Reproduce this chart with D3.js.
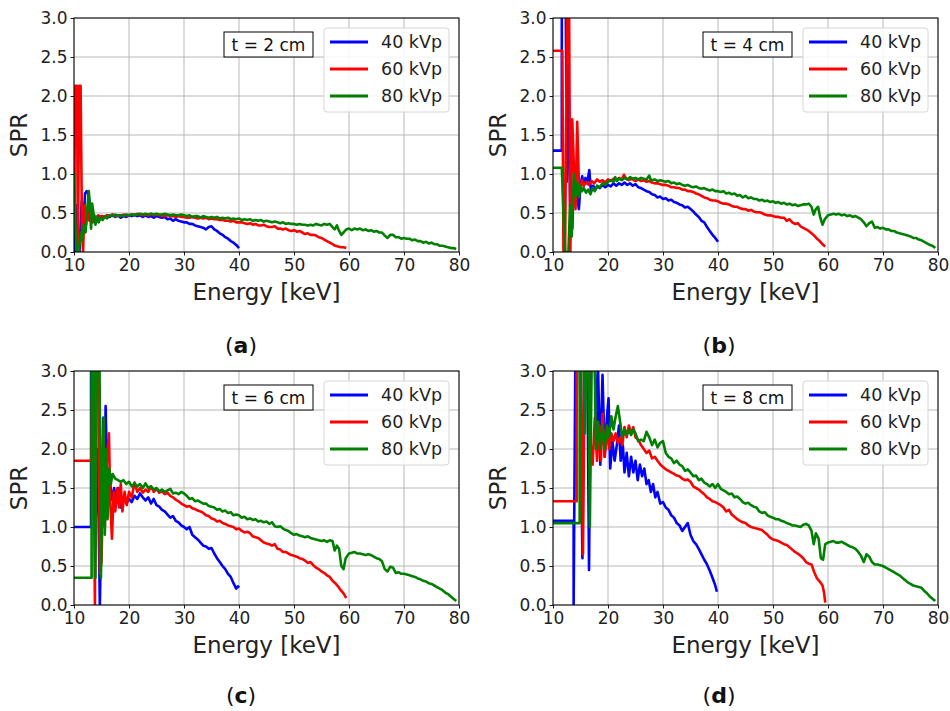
<!DOCTYPE html>
<html>
<head>
<meta charset="utf-8">
<script src="https://cdn.jsdelivr.net/npm/d3@7"></script>
<style>
  body { margin: 0; background: #fff; }
  text { font-family: "DejaVu Sans", sans-serif; }
</style>
</head>
<body>
<svg id="fig" width="950" height="711"></svg>
<script>
// Axis ticks
const energyTicks = [10, 20, 30, 40, 50, 60, 70, 80];
const sprTicks = [0, 0.5, 1.0, 1.5, 2.0, 2.5, 3.0];
const kvpLabels = ["40 kVp", "60 kVp", "80 kVp"];
const thicknessLabels = ["t = 2 cm", "t = 4 cm", "t = 6 cm", "t = 8 cm"];
const panelTags = ["a", "b", "c", "d"];

// SPR spectra, [energy keV, SPR]
const spr2cm_40 = [[10.0,1.35],[10.15,0.0],[10.4,0.6],[10.6,0.0],[11.0,0.0],[11.4,0.65],[11.7,0.3],[12.0,0.75],[12.3,0.78],[12.6,0.74],[12.9,0.62],[13.2,0.42],[13.5,0.47],[13.8,0.41],[14.1,0.45],[14.5,0.43],[15,0.46],[15.5,0.44],[16,0.47],[16.5,0.45],[17,0.48],[17.5,0.45],[18,0.47],[18.5,0.44],[19,0.46],[19.5,0.45],[20,0.47],[20.5,0.46],[21,0.48],[21.5,0.46],[22,0.47],[22.5,0.45],[23,0.47],[23.5,0.45],[24,0.46],[24.5,0.44],[25,0.46],[25.5,0.45],[26,0.44],[26.5,0.45],[27,0.42],[27.5,0.43],[28,0.40],[28.5,0.42],[29,0.40],[29.5,0.39],[30,0.38],[30.5,0.38],[31,0.36],[31.5,0.36],[32,0.34],[32.5,0.33],[33,0.32],[33.5,0.31],[34,0.29],[34.5,0.32],[35,0.33],[35.5,0.29],[36,0.27],[36.5,0.24],[37,0.22],[37.5,0.19],[38,0.17],[38.5,0.14],[39,0.12],[39.5,0.09],[40,0.05]];
const spr2cm_60 = [[10.0,0.6],[10.25,2.13],[10.55,2.13],[10.7,0.0],[10.95,2.13],[11.2,2.13],[11.45,0.3],[11.65,0.0],[11.9,0.6],[12.2,0.35],[12.5,0.55],[12.8,0.4],[13.1,0.5],[13.4,0.38],[13.7,0.47],[14,0.42],[14.4,0.47],[14.8,0.45],[15.2,0.46],[15.6,0.44],[16,0.47],[16.5,0.46],[17,0.48],[17.5,0.46],[18,0.47],[18.5,0.46],[19,0.48],[19.5,0.47],[20,0.47],[20.5,0.48],[21,0.47],[21.5,0.49],[22,0.48],[22.5,0.47],[23,0.48],[23.5,0.47],[24,0.49],[24.5,0.47],[25,0.48],[25.5,0.47],[26,0.47],[26.5,0.46],[27,0.47],[27.5,0.46],[28,0.46],[28.5,0.45],[29,0.46],[29.5,0.45],[30,0.45],[30.5,0.44],[31,0.44],[31.5,0.45],[32,0.44],[32.5,0.43],[33,0.44],[33.5,0.43],[34,0.44],[34.5,0.42],[35,0.43],[35.5,0.42],[36,0.42],[36.5,0.41],[37,0.41],[37.5,0.40],[38,0.40],[38.5,0.39],[39,0.40],[39.5,0.38],[40,0.38],[40.5,0.38],[41,0.37],[41.5,0.36],[42,0.37],[42.5,0.35],[43,0.36],[43.5,0.34],[44,0.34],[44.5,0.35],[45,0.33],[45.5,0.32],[46,0.32],[46.5,0.33],[47,0.30],[47.5,0.30],[48,0.29],[48.5,0.30],[49,0.28],[49.5,0.27],[50,0.28],[50.5,0.26],[51,0.27],[51.5,0.25],[52,0.23],[52.5,0.24],[53,0.22],[53.5,0.22],[54,0.21],[54.5,0.19],[55,0.18],[55.5,0.16],[56,0.14],[56.5,0.12],[57,0.10],[57.5,0.08],[58,0.07],[58.5,0.06],[59,0.06],[59.5,0.05]];
const spr2cm_80 = [[10.0,1.02],[10.2,0.4],[10.45,0.0],[10.9,0.0],[11.2,0.25],[11.5,0.15],[11.8,0.35],[12.1,0.25],[12.4,0.55],[12.7,0.78],[12.9,0.55],[13.1,0.3],[13.3,0.62],[13.6,0.47],[13.9,0.35],[14.2,0.45],[14.5,0.38],[14.8,0.44],[15.2,0.41],[15.6,0.46],[16,0.43],[16.5,0.47],[17,0.46],[17.5,0.48],[18,0.46],[18.5,0.47],[19,0.46],[19.5,0.48],[20,0.47],[20.5,0.48],[21,0.47],[21.5,0.48],[22,0.49],[22.5,0.48],[23,0.49],[23.5,0.48],[24,0.49],[24.5,0.48],[25,0.49],[25.5,0.48],[26,0.48],[26.5,0.49],[27,0.48],[27.5,0.47],[28,0.48],[28.5,0.47],[29,0.47],[29.5,0.48],[30,0.47],[30.5,0.46],[31,0.47],[31.5,0.45],[32,0.46],[32.5,0.46],[33,0.44],[33.5,0.46],[34,0.45],[34.5,0.44],[35,0.45],[35.5,0.44],[36,0.45],[36.5,0.43],[37,0.44],[37.5,0.43],[38,0.44],[38.5,0.42],[39,0.43],[39.5,0.42],[40,0.43],[40.5,0.41],[41,0.42],[41.5,0.41],[42,0.42],[42.5,0.40],[43,0.41],[43.5,0.40],[44,0.41],[44.5,0.39],[45,0.40],[45.5,0.39],[46,0.38],[46.5,0.39],[47,0.38],[47.5,0.37],[48,0.38],[48.5,0.36],[49,0.37],[49.5,0.36],[50,0.36],[50.5,0.35],[51,0.36],[51.5,0.35],[52,0.35],[52.5,0.34],[53,0.35],[53.5,0.34],[54,0.36],[54.5,0.35],[55,0.34],[55.5,0.36],[56,0.35],[56.5,0.36],[57,0.32],[57.4,0.29],[57.8,0.34],[58.2,0.27],[58.6,0.22],[59,0.25],[59.5,0.29],[60,0.30],[60.5,0.28],[61,0.30],[61.5,0.29],[62,0.30],[62.5,0.28],[63,0.29],[63.5,0.27],[64,0.28],[64.5,0.26],[65,0.27],[65.5,0.25],[66,0.25],[66.5,0.21],[67,0.18],[67.5,0.22],[68,0.22],[68.5,0.19],[69,0.19],[69.5,0.17],[70,0.18],[70.5,0.17],[71,0.17],[71.5,0.15],[72,0.16],[72.5,0.14],[73,0.14],[73.5,0.12],[74,0.13],[74.5,0.11],[75,0.12],[75.5,0.10],[76,0.10],[76.5,0.08],[77,0.08],[77.5,0.07],[78,0.06],[78.5,0.05],[79,0.05],[79.5,0.04]];

const spr4cm_40 = [[10,1.30],[11.6,1.30],[11.6,3.5],[12.3,3.5],[12.5,0.9],[12.8,2.4],[13.1,0.6],[13.5,0.3],[13.9,1.1],[14.3,0.75],[14.7,0.55],[15.0,0.85],[15.3,0.97],[15.6,0.85],[15.9,0.95],[16.2,0.88],[16.6,1.05],[16.9,0.78],[17.3,0.85],[17.7,0.80],[18.1,0.84],[18.5,0.82],[19,0.86],[19.5,0.83],[20,0.86],[20.5,0.84],[21,0.88],[21.5,0.85],[22,0.88],[22.5,0.86],[23,0.89],[23.5,0.86],[24,0.88],[24.5,0.85],[25,0.87],[25.5,0.83],[26,0.82],[26.5,0.80],[27,0.78],[27.5,0.77],[28,0.74],[28.5,0.73],[29,0.70],[29.5,0.71],[30,0.68],[30.5,0.69],[31,0.66],[31.5,0.67],[32,0.64],[32.5,0.63],[33,0.61],[33.5,0.60],[34,0.57],[34.5,0.58],[35,0.55],[35.5,0.52],[36,0.48],[36.5,0.45],[37,0.40],[37.5,0.38],[38,0.32],[38.5,0.27],[39,0.22],[39.5,0.18],[40,0.13]];
const spr4cm_60 = [[10,2.58],[11.7,2.58],[11.9,0.0],[12.2,0.0],[12.6,3.5],[12.9,3.5],[13.15,0.0],[13.5,1.7],[13.8,1.1],[14.1,0.55],[14.4,1.67],[14.7,0.9],[15.0,0.82],[15.3,0.92],[15.6,0.85],[16,0.90],[16.5,0.86],[17,0.91],[17.5,0.88],[18,0.93],[18.5,0.90],[19,0.92],[19.5,0.89],[20,0.93],[20.5,0.91],[21,0.94],[21.5,0.92],[22,0.95],[22.5,0.93],[22.9,0.99],[23.3,0.94],[23.8,0.92],[24.3,0.94],[25,0.91],[25.5,0.93],[26,0.91],[26.5,0.92],[27,0.90],[27.5,0.91],[28,0.89],[28.5,0.88],[29,0.88],[29.5,0.87],[30,0.86],[30.5,0.86],[31,0.85],[31.5,0.83],[32,0.83],[32.5,0.82],[33,0.82],[33.5,0.80],[34,0.80],[34.5,0.78],[35,0.78],[35.5,0.77],[36,0.75],[36.5,0.74],[37,0.72],[37.5,0.70],[38,0.69],[38.5,0.67],[39,0.66],[39.5,0.66],[40,0.65],[40.5,0.63],[41,0.62],[41.5,0.62],[42,0.61],[42.5,0.59],[43,0.58],[43.5,0.58],[44,0.56],[44.5,0.55],[45,0.55],[45.5,0.53],[46,0.54],[46.5,0.52],[47,0.51],[47.5,0.51],[48,0.50],[48.5,0.48],[49,0.47],[49.5,0.47],[50,0.46],[50.5,0.45],[51,0.45],[51.5,0.44],[52,0.44],[52.5,0.40],[53,0.42],[53.5,0.38],[54,0.36],[54.5,0.37],[55,0.33],[55.5,0.31],[56,0.29],[56.5,0.27],[57,0.24],[57.5,0.21],[58,0.17],[58.5,0.14],[59,0.10],[59.5,0.07]];
const spr4cm_80 = [[10,1.08],[11.6,1.08],[11.9,0.5],[12.2,0.0],[12.8,0.0],[13.1,0.6],[13.4,0.2],[13.8,1.0],[14.1,0.72],[14.4,0.9],[14.7,0.7],[15.0,0.85],[15.3,0.78],[15.6,0.82],[16,0.76],[16.4,0.80],[16.8,0.74],[17.2,0.82],[17.6,0.78],[18,0.85],[18.5,0.83],[19,0.88],[19.5,0.86],[20,0.90],[20.5,0.92],[21,0.90],[21.3,0.96],[21.6,0.91],[22,0.94],[22.5,0.92],[23,0.95],[23.5,0.93],[24,0.96],[24.5,0.94],[25,0.95],[25.5,0.93],[26,0.95],[26.5,0.94],[27,0.93],[27.5,0.98],[27.8,0.92],[28.5,0.93],[29,0.91],[29.5,0.92],[30,0.91],[30.5,0.90],[31,0.91],[31.5,0.88],[32,0.89],[32.5,0.87],[33,0.88],[33.5,0.86],[34,0.85],[34.5,0.86],[35,0.84],[35.5,0.83],[36,0.84],[36.5,0.82],[37,0.81],[37.5,0.82],[38,0.80],[38.5,0.79],[39,0.80],[39.5,0.78],[40,0.78],[40.5,0.77],[41,0.78],[41.5,0.75],[42,0.76],[42.5,0.74],[43,0.75],[43.5,0.72],[44,0.73],[44.5,0.70],[45,0.72],[45.5,0.69],[46,0.70],[46.5,0.68],[47,0.68],[47.5,0.66],[48,0.67],[48.5,0.65],[49,0.66],[49.5,0.64],[50,0.65],[50.5,0.63],[51,0.64],[51.5,0.62],[52,0.63],[52.5,0.61],[53,0.62],[53.5,0.60],[54,0.61],[54.5,0.59],[55,0.60],[55.5,0.61],[56,0.61],[56.5,0.62],[57,0.58],[57.4,0.48],[57.8,0.55],[58.2,0.58],[58.6,0.44],[59,0.35],[59.4,0.42],[60,0.47],[60.5,0.48],[61,0.49],[61.5,0.48],[62,0.49],[62.5,0.47],[63,0.48],[63.5,0.46],[64,0.47],[64.5,0.45],[65,0.46],[65.5,0.44],[66,0.42],[66.5,0.38],[67,0.33],[67.5,0.37],[68,0.39],[68.5,0.31],[69,0.32],[69.5,0.30],[70,0.31],[70.5,0.29],[71,0.29],[71.5,0.27],[72,0.27],[72.5,0.25],[73,0.24],[73.5,0.23],[74,0.22],[74.5,0.21],[75,0.20],[75.5,0.18],[76,0.18],[76.5,0.16],[77,0.15],[77.5,0.13],[78,0.11],[78.5,0.09],[79,0.08],[79.5,0.05]];

const spr6cm_40 = [[10,1.0],[13.1,1.0],[13.1,3.5],[13.6,3.5],[13.9,1.0],[14.3,2.0],[14.7,0.0],[15.0,1.2],[15.3,2.4],[15.5,1.1],[15.75,2.55],[16.1,1.3],[16.5,1.6],[16.9,1.35],[17.3,1.5],[17.7,1.3],[18.1,1.5],[18.5,1.25],[19,1.38],[19.5,1.30],[20,1.36],[20.5,1.32],[21,1.4],[21.5,1.36],[22,1.43],[22.5,1.38],[23,1.34],[23.5,1.38],[24,1.30],[24.5,1.36],[25,1.28],[25.5,1.26],[26,1.22],[26.5,1.20],[27,1.16],[27.5,1.12],[28,1.14],[28.5,1.08],[29,1.06],[29.5,1.02],[30,1.0],[30.5,0.97],[31,1.00],[31.5,0.90],[32,0.87],[32.5,0.84],[33,0.80],[33.5,0.76],[34,0.75],[34.5,0.72],[35,0.73],[35.5,0.66],[36,0.60],[36.5,0.55],[37,0.50],[37.5,0.46],[38,0.40],[38.5,0.36],[39,0.28],[39.5,0.21],[39.8,0.24],[40,0.22]];
const spr6cm_60 = [[10,1.85],[13.2,1.85],[13.4,3.5],[13.8,0.0],[14.0,3.5],[14.4,3.5],[14.7,0.4],[15.0,0.55],[15.3,1.6],[15.6,1.0],[16.0,1.9],[16.35,2.2],[16.6,1.3],[16.9,0.85],[17.2,1.45],[17.5,1.2],[17.9,1.5],[18.2,1.25],[18.5,1.55],[18.8,1.2],[19.2,1.45],[19.6,1.28],[20,1.45],[20.5,1.38],[21,1.57],[21.5,1.45],[22,1.50],[22.5,1.44],[23,1.48],[23.5,1.45],[24,1.52],[24.5,1.45],[25,1.49],[25.5,1.44],[26,1.46],[26.5,1.42],[27,1.44],[27.5,1.40],[28,1.38],[28.5,1.35],[29,1.33],[29.5,1.30],[30,1.28],[30.5,1.26],[31,1.27],[31.5,1.24],[32,1.23],[32.5,1.21],[33,1.20],[33.5,1.18],[34,1.15],[34.5,1.14],[35,1.11],[35.5,1.10],[36,1.07],[36.5,1.08],[37,1.05],[37.5,1.04],[38,1.02],[38.5,1.01],[39,1.00],[39.5,0.97],[40,0.98],[40.5,0.95],[41,0.93],[41.5,0.94],[42,0.92],[42.5,0.88],[43,0.87],[43.5,0.86],[44,0.83],[44.5,0.80],[45,0.79],[45.5,0.78],[46,0.76],[46.5,0.78],[47,0.72],[47.5,0.71],[48,0.68],[48.5,0.68],[49,0.66],[49.5,0.64],[50,0.63],[50.5,0.62],[51,0.60],[51.5,0.59],[52,0.57],[52.5,0.54],[53,0.55],[53.5,0.51],[54,0.48],[54.5,0.46],[55,0.43],[55.5,0.41],[56,0.38],[56.5,0.36],[57,0.31],[57.5,0.28],[58,0.24],[58.5,0.19],[59,0.15],[59.5,0.09]];
const spr6cm_80 = [[10,0.35],[13.2,0.35],[13.2,3.5],[13.6,3.5],[13.9,0.35],[14.2,3.5],[14.6,3.5],[14.9,0.35],[15.2,1.8],[15.4,2.4],[15.6,0.9],[15.9,2.0],[16.1,1.1],[16.4,1.75],[16.7,1.55],[17.0,1.68],[17.5,1.62],[18,1.60],[18.5,1.58],[19,1.60],[19.5,1.55],[20,1.58],[20.5,1.52],[21,1.56],[21.5,1.52],[22,1.55],[22.5,1.50],[23,1.56],[23.5,1.50],[24,1.52],[24.5,1.48],[25,1.50],[25.5,1.46],[26,1.48],[26.5,1.45],[27,1.47],[27.5,1.49],[28,1.43],[28.5,1.44],[29,1.42],[29.5,1.45],[30,1.43],[30.5,1.40],[31,1.36],[31.5,1.37],[32,1.33],[32.5,1.34],[33,1.32],[33.5,1.30],[34,1.30],[34.5,1.27],[35,1.26],[35.5,1.25],[36,1.22],[36.5,1.23],[37,1.20],[37.5,1.21],[38,1.18],[38.5,1.19],[39,1.15],[39.5,1.16],[40,1.15],[40.5,1.12],[41,1.13],[41.5,1.10],[42,1.11],[42.5,1.09],[43,1.10],[43.5,1.07],[44,1.08],[44.5,1.06],[45,1.07],[45.5,1.04],[46,1.06],[46.5,1.01],[47,1.00],[47.5,1.01],[48,0.98],[48.5,0.96],[49,0.95],[49.5,0.92],[50,0.90],[50.5,0.91],[51,0.89],[51.5,0.88],[52,0.87],[52.5,0.88],[53,0.86],[53.5,0.85],[54,0.84],[54.5,0.83],[55,0.82],[55.5,0.83],[56,0.81],[56.5,0.83],[57,0.82],[57.4,0.70],[57.8,0.76],[58.2,0.72],[58.6,0.50],[59,0.46],[59.4,0.60],[60,0.66],[60.5,0.67],[61,0.68],[61.5,0.66],[62,0.66],[62.5,0.65],[63,0.64],[63.5,0.65],[64,0.64],[64.5,0.62],[65,0.60],[65.5,0.59],[66,0.56],[66.5,0.46],[67,0.43],[67.5,0.49],[68,0.48],[68.5,0.41],[69,0.42],[69.5,0.40],[70,0.40],[70.5,0.39],[71,0.38],[71.5,0.37],[72,0.36],[72.5,0.34],[73,0.33],[73.5,0.31],[74,0.30],[74.5,0.28],[75,0.27],[75.5,0.25],[76,0.23],[76.5,0.21],[77,0.19],[77.5,0.16],[78,0.14],[78.5,0.11],[79,0.08],[79.5,0.05]];

const spr8cm_40 = [[10,1.08],[13.75,1.08],[13.75,0.0],[14.1,3.5],[14.8,3.5],[15.35,0.6],[15.7,3.5],[16.2,3.5],[16.55,0.45],[16.9,3.5],[17.5,3.5],[17.9,2.2],[18.2,3.0],[18.6,1.8],[19.0,2.95],[19.4,1.9],[19.8,2.4],[20.1,2.65],[20.4,1.75],[20.8,2.1],[21.2,1.85],[21.6,2.05],[22.0,2.3],[22.3,1.85],[22.7,2.05],[23.0,1.7],[23.4,1.95],[23.8,1.65],[24.2,1.9],[24.6,1.7],[25,1.85],[25.4,1.6],[25.8,1.8],[26.2,1.65],[26.6,1.75],[27,1.55],[27.4,1.6],[27.8,1.45],[28.2,1.55],[28.6,1.38],[29,1.45],[29.5,1.30],[30,1.32],[30.5,1.25],[31,1.22],[31.5,1.15],[32,1.12],[32.5,1.05],[33,1.02],[33.5,0.95],[34,1.0],[34.5,1.05],[35,0.90],[35.5,0.82],[36,0.78],[36.5,0.72],[37,0.65],[37.5,0.58],[38,0.52],[38.5,0.44],[39,0.35],[39.5,0.25],[39.8,0.17]];
const spr8cm_60 = [[10,1.33],[14.3,1.33],[14.3,3.5],[15.0,3.5],[15.45,0.65],[15.8,3.5],[16.4,3.5],[16.8,2.1],[17.2,1.8],[17.6,2.4],[18.0,1.85],[18.4,2.3],[18.7,1.85],[19.0,2.45],[19.4,1.9],[19.8,2.25],[20.2,2.0],[20.6,2.2],[21,2.1],[21.4,2.2],[21.8,2.08],[22.2,2.15],[22.6,2.05],[23,2.28],[23.4,2.15],[23.8,2.3],[24.2,2.2],[24.6,2.28],[25,2.15],[25.5,2.12],[26,2.05],[26.5,2.0],[27,1.95],[27.5,1.98],[28,1.88],[28.5,1.90],[29,1.85],[29.5,1.80],[30,1.77],[30.5,1.74],[31,1.72],[31.5,1.70],[32,1.68],[32.5,1.66],[33,1.65],[33.5,1.62],[34,1.60],[34.5,1.61],[35,1.58],[35.5,1.52],[36,1.50],[36.5,1.48],[37,1.45],[37.5,1.42],[38,1.38],[38.5,1.36],[39,1.33],[39.5,1.32],[40,1.30],[40.5,1.28],[41,1.25],[41.5,1.20],[42,1.22],[42.5,1.16],[43,1.13],[43.5,1.10],[44,1.08],[44.5,1.06],[45,1.05],[45.5,1.02],[46,1.00],[46.5,0.99],[47,0.98],[47.5,0.97],[48,0.96],[48.5,0.93],[49,0.90],[49.5,0.86],[50,0.84],[50.5,0.83],[51,0.82],[51.5,0.80],[52,0.78],[52.5,0.77],[53,0.74],[53.5,0.71],[54,0.68],[54.5,0.66],[55,0.63],[55.5,0.60],[56,0.55],[56.5,0.53],[57,0.52],[57.5,0.42],[58,0.34],[58.5,0.30],[59,0.25],[59.3,0.15],[59.5,0.03]];
const spr8cm_80 = [[10,1.05],[14.85,1.05],[14.85,3.5],[15.5,3.5],[15.8,2.2],[16.1,3.5],[16.4,3.5],[16.7,1.0],[17.1,3.5],[17.5,3.5],[17.8,2.0],[18.2,2.35],[18.6,2.0],[19.0,2.3],[19.4,2.0],[19.8,2.3],[20.2,2.15],[20.6,2.42],[21.0,2.25],[21.4,2.42],[21.8,2.55],[22.2,2.35],[22.6,2.15],[23,2.25],[23.4,2.18],[23.8,2.25],[24.2,2.18],[24.6,2.25],[25,2.2],[25.5,2.1],[26,2.12],[26.5,2.1],[27,2.22],[27.5,2.15],[28,2.05],[28.5,2.12],[29,2.02],[29.5,2.08],[30,2.1],[30.5,1.95],[31,1.90],[31.5,1.88],[32,1.82],[32.5,1.85],[33,1.80],[33.5,1.78],[34,1.72],[34.5,1.74],[35,1.70],[35.5,1.65],[36,1.66],[36.5,1.60],[37,1.62],[37.5,1.57],[38,1.55],[38.5,1.52],[39,1.55],[39.5,1.50],[40,1.55],[40.5,1.49],[41,1.47],[41.5,1.45],[42,1.42],[42.5,1.43],[43,1.38],[43.5,1.39],[44,1.36],[44.5,1.32],[45,1.30],[45.5,1.31],[46,1.28],[46.5,1.26],[47,1.25],[47.5,1.20],[48,1.18],[48.5,1.19],[49,1.15],[49.5,1.13],[50,1.12],[50.5,1.10],[51,1.10],[51.5,1.08],[52,1.07],[52.5,1.05],[53,1.04],[53.5,1.02],[54,1.02],[54.5,1.01],[55,1.00],[55.5,1.03],[56,1.04],[56.5,1.02],[57,0.95],[57.4,0.78],[57.8,0.92],[58.3,0.85],[58.7,0.60],[59.1,0.58],[59.5,0.78],[60,0.80],[60.5,0.81],[61,0.82],[61.5,0.80],[62,0.80],[62.5,0.81],[63,0.79],[63.5,0.77],[64,0.75],[64.5,0.74],[65,0.72],[65.5,0.68],[66,0.63],[66.5,0.55],[67,0.65],[67.5,0.62],[68,0.55],[68.5,0.52],[69,0.52],[69.5,0.51],[70,0.50],[70.5,0.48],[71,0.46],[71.5,0.44],[72,0.42],[72.5,0.40],[73,0.38],[73.5,0.35],[74,0.32],[74.5,0.29],[75,0.27],[75.5,0.25],[76,0.24],[76.5,0.23],[77,0.22],[77.5,0.18],[78,0.15],[78.5,0.11],[79,0.08],[79.5,0.05]];

const seriesColors = ["#0000ff", "#ff0000", "#008000"];

// Panel frames (plot-area pixel bounds) and caption anchors
const layout = [
  { x0: 74,  x1: 459, y0: 18,  y1: 252, capX: 241, capY: 353, series: [spr2cm_40, spr2cm_60, spr2cm_80] },
  { x0: 553, x1: 938, y0: 18,  y1: 252, capX: 719, capY: 353, series: [spr4cm_40, spr4cm_60, spr4cm_80] },
  { x0: 74,  x1: 459, y0: 371, y1: 605, capX: 241, capY: 703, series: [spr6cm_40, spr6cm_60, spr6cm_80] },
  { x0: 553, x1: 938, y0: 371, y1: 605, capX: 719, capY: 703, series: [spr8cm_40, spr8cm_60, spr8cm_80] }
];

const svg = d3.select("#fig");

layout.forEach((p, i) => {
  const x = d3.scaleLinear().domain([10, 80]).range([p.x0, p.x1]);
  const y = d3.scaleLinear().domain([0, 3]).range([p.y1, p.y0]);
  const g = svg.append("g");

  // grid
  g.append("g").selectAll("line").data(energyTicks).join("line")
    .attr("x1", d => x(d)).attr("x2", d => x(d))
    .attr("y1", p.y0).attr("y2", p.y1)
    .attr("stroke", "#b0b0b0").attr("stroke-width", 0.9);
  g.append("g").selectAll("line").data(sprTicks).join("line")
    .attr("x1", p.x0).attr("x2", p.x1)
    .attr("y1", d => y(d)).attr("y2", d => y(d))
    .attr("stroke", "#b0b0b0").attr("stroke-width", 0.9);

  // curves, clipped to the plot area
  const clipId = "clip" + i;
  g.append("clipPath").attr("id", clipId).append("rect")
    .attr("x", p.x0).attr("y", p.y0).attr("width", p.x1 - p.x0).attr("height", p.y1 - p.y0);
  const line = d3.line().x(d => x(d[0])).y(d => y(d[1]));
  const curves = g.append("g").attr("clip-path", `url(#${clipId})`);
  p.series.forEach((s, k) => {
    curves.append("path").datum(s).attr("d", line)
      .attr("fill", "none").attr("stroke", seriesColors[k])
      .attr("stroke-width", 2.6).attr("stroke-linejoin", "round");
  });

  // axes
  const xAxis = d3.axisBottom(x).tickValues(energyTicks).tickFormat(d3.format("d")).tickSizeOuter(0).tickSize(3.5).tickPadding(3);
  const yAxis = d3.axisLeft(y).tickValues(sprTicks).tickFormat(d3.format(".1f")).tickSizeOuter(0).tickSize(3.5).tickPadding(3);
  const gx = g.append("g").attr("transform", `translate(0,${p.y1})`).call(xAxis);
  const gy = g.append("g").attr("transform", `translate(${p.x0},0)`).call(yAxis);
  [gx, gy].forEach(a => {
    a.select(".domain").remove();
    a.selectAll("line").attr("stroke", "#000").attr("stroke-width", 0.9);
    a.selectAll("text").attr("font-family", "DejaVu Sans").attr("font-size", 17).attr("fill", "#222");
  });

  // frame
  g.append("rect").attr("x", p.x0).attr("y", p.y0)
    .attr("width", p.x1 - p.x0).attr("height", p.y1 - p.y0)
    .attr("fill", "none").attr("stroke", "#000").attr("stroke-width", 1);

  // axis titles
  g.append("text").attr("x", (p.x0 + p.x1) / 2).attr("y", p.y1 + 48)
    .attr("text-anchor", "middle").attr("font-size", 23).attr("fill", "#222")
    .text("Energy [keV]");
  g.append("text").attr("transform", `translate(${p.x0 - 47},${(p.y0 + p.y1) / 2}) rotate(-90)`)
    .attr("text-anchor", "middle").attr("font-size", 23).attr("fill", "#222")
    .text("SPR");

  // thickness tag
  const tb = { x: p.x0 + 150, y: p.y0 + 14, w: 89, h: 25 };
  g.append("rect").attr("x", tb.x).attr("y", tb.y).attr("width", tb.w).attr("height", tb.h)
    .attr("fill", "#fff").attr("stroke", "#000").attr("stroke-width", 1);
  g.append("text").attr("x", tb.x + tb.w / 2).attr("y", tb.y + tb.h / 2)
    .attr("text-anchor", "middle").attr("dominant-baseline", "central")
    .attr("font-size", 17).attr("fill", "#111").text(thicknessLabels[i]);

  // legend
  const lg = g.append("g").attr("transform", `translate(${p.x0 + 250},${p.y0 + 10})`);
  lg.append("rect").attr("x", 0).attr("y", 0).attr("width", 125).attr("height", 84).attr("rx", 3)
    .attr("fill", "#fff").attr("fill-opacity", 0.85).attr("stroke", "#d6d6d6").attr("stroke-width", 1);
  kvpLabels.forEach((lab, k) => {
    const yy = 14 + k * 27;
    lg.append("line").attr("x1", 6).attr("x2", 44).attr("y1", yy).attr("y2", yy)
      .attr("stroke", seriesColors[k]).attr("stroke-width", 2.8);
    lg.append("text").attr("x", 57).attr("y", yy).attr("dominant-baseline", "central")
      .attr("font-size", 17.5).attr("fill", "#222").text(lab);
  });

  // panel caption
  const cap = svg.append("text").attr("x", p.capX).attr("y", p.capY)
    .attr("text-anchor", "middle").attr("font-family", "Liberation Serif, serif")
    .attr("font-size", 22).attr("fill", "#111");
  cap.append("tspan").text("(");
  cap.append("tspan").attr("font-weight", "bold").text(panelTags[i]);
  cap.append("tspan").text(")");
});
</script>
</body>
</html>
